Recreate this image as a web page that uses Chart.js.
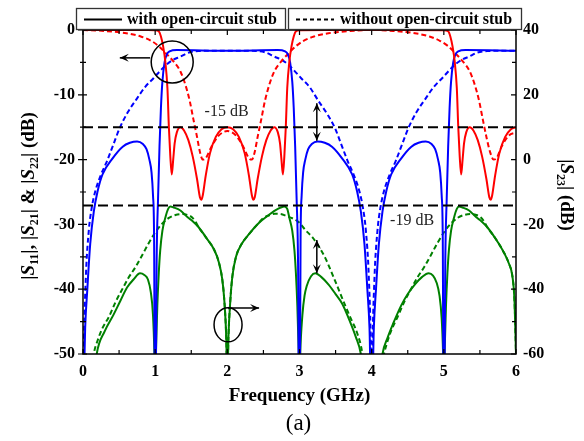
<!DOCTYPE html>
<html>
<head>
<meta charset="utf-8">
<script src="https://cdn.jsdelivr.net/npm/chart.js@4.4.1/dist/chart.umd.min.js"></script>
<style>
  html, body { margin: 0; padding: 0; background: #fff; }
  canvas { display: block; }
</style>
</head>
<body>
<canvas id="chart" width="584" height="441"></canvas>
<script>
// [frequency (GHz), level (dB)]
const s11With = [[0,0],[0.5,0],[0.9,-0.01],[1.0,-0.02],[1.05,-0.2],[1.08,-1],[1.11,-2.5],[1.14,-4.8],[1.17,-9],[1.19,-15],[1.21,-19.5],[1.23,-22.3],[1.25,-20],[1.27,-17.5],[1.3,-15.8],[1.35,-15],[1.4,-15.5],[1.46,-17],[1.52,-19.5],[1.58,-23],[1.62,-25.8],[1.64,-26.2],[1.66,-25.5],[1.7,-22.5],[1.76,-19],[1.84,-16.5],[1.92,-15.3],[2.0,-15],[2.08,-15.3],[2.16,-16.5],[2.24,-19],[2.3,-22.5],[2.34,-25.5],[2.36,-26.2],[2.38,-25.8],[2.42,-23],[2.48,-19.5],[2.54,-17],[2.6,-15.5],[2.65,-15],[2.7,-15.8],[2.73,-17.5],[2.75,-20],[2.77,-22.3],[2.79,-19.5],[2.81,-15],[2.83,-9],[2.86,-4.8],[2.89,-2.5],[2.92,-1],[2.95,-0.2],[3.0,-0.02],[3.5,0],[4.0,0],[4.5,0],[5.0,-0.02],[5.06,-0.2],[5.09,-1],[5.12,-2.5],[5.15,-4.8],[5.18,-9],[5.2,-15],[5.22,-19.5],[5.24,-22.3],[5.26,-20],[5.28,-17.5],[5.31,-15.8],[5.36,-15],[5.41,-15.5],[5.47,-17],[5.53,-19.5],[5.59,-23],[5.63,-25.8],[5.65,-26.2],[5.67,-25.5],[5.71,-22.5],[5.77,-19],[5.85,-16.5],[5.93,-15.3],[6.0,-15]];
const s11Without = [[0,0],[0.3,-0.15],[0.6,-0.5],[0.8,-1.0],[0.95,-1.7],[1.05,-2.5],[1.15,-3.6],[1.25,-4.8],[1.35,-6.4],[1.42,-8.5],[1.48,-11],[1.53,-13.8],[1.58,-16.5],[1.62,-18.8],[1.66,-20],[1.7,-19.8],[1.78,-18],[1.88,-16.3],[2.0,-15.6],[2.12,-16.3],[2.22,-18],[2.3,-19.8],[2.34,-20],[2.38,-18.8],[2.42,-16.5],[2.47,-13.8],[2.52,-11],[2.58,-8.5],[2.65,-6.4],[2.75,-4.8],[2.85,-3.6],[2.95,-2.5],[3.05,-1.7],[3.2,-1.0],[3.4,-0.5],[3.7,-0.15],[4.0,0],[4.3,-0.15],[4.6,-0.5],[4.8,-1.0],[4.95,-1.7],[5.06,-2.5],[5.16,-3.6],[5.26,-4.8],[5.36,-6.4],[5.43,-8.5],[5.49,-11],[5.54,-13.8],[5.59,-16.5],[5.64,-18.8],[5.69,-20],[5.73,-19.8],[5.8,-18],[5.9,-16.3],[6.0,-15.8]];
const s21With = [[0,-60],[0.03,-46],[0.06,-40],[0.1,-33],[0.15,-28],[0.2,-25],[0.27,-22.3],[0.41,-19.8],[0.55,-18],[0.65,-17.4],[0.75,-17.2],[0.83,-17.6],[0.88,-18.4],[0.92,-20],[0.95,-22],[0.97,-25.5],[0.985,-32],[0.997,-60],[1.005,-60],[1.02,-36],[1.04,-26],[1.06,-18],[1.08,-12],[1.1,-8],[1.13,-5],[1.16,-3.8],[1.2,-3.3],[1.3,-3.1],[2.0,-3.2],[2.7,-3.1],[2.8,-3.3],[2.84,-3.8],[2.87,-5],[2.9,-8],[2.92,-12],[2.94,-18],[2.96,-26],[2.98,-36],[2.995,-60],[3.003,-60],[3.015,-32],[3.03,-25.5],[3.05,-22],[3.08,-20],[3.12,-18.4],[3.17,-17.6],[3.25,-17.2],[3.35,-17.4],[3.45,-18],[3.59,-19.8],[3.73,-22.3],[3.8,-25],[3.85,-28],[3.9,-33],[3.94,-40],[3.97,-46],[4.0,-60],[4.03,-46],[4.06,-40],[4.1,-33],[4.15,-28],[4.2,-25],[4.27,-22.3],[4.41,-19.8],[4.55,-18],[4.65,-17.4],[4.75,-17.2],[4.83,-17.6],[4.88,-18.4],[4.92,-20],[4.95,-22],[4.97,-25.5],[4.985,-32],[4.997,-60],[5.005,-60],[5.02,-36],[5.04,-26],[5.06,-18],[5.08,-12],[5.1,-8],[5.13,-5],[5.16,-3.8],[5.2,-3.3],[5.3,-3.1],[6.0,-3.2]];
const s21Without = [[0,-60],[0.01,-50],[0.04,-38],[0.08,-31],[0.12,-27.5],[0.17,-24.9],[0.25,-22.3],[0.33,-20.3],[0.42,-17.7],[0.51,-15.1],[0.62,-12.7],[0.74,-10.7],[0.86,-8.8],[0.98,-7.4],[1.07,-6.3],[1.16,-5.3],[1.25,-4.6],[1.35,-4.1],[1.46,-3.5],[1.6,-3.25],[1.8,-3.2],[2.2,-3.2],[2.4,-3.25],[2.54,-3.5],[2.65,-4.1],[2.75,-4.6],[2.84,-5.3],[2.93,-6.3],[3.02,-7.4],[3.14,-8.8],[3.26,-10.9],[3.38,-12.9],[3.49,-15.1],[3.58,-17.7],[3.67,-20.3],[3.75,-22.3],[3.83,-24.9],[3.88,-27.5],[3.92,-31],[3.96,-38],[3.99,-50],[4.0,-60],[4.01,-50],[4.04,-38],[4.08,-31],[4.12,-27.5],[4.17,-24.9],[4.25,-22.3],[4.33,-20.3],[4.42,-17.7],[4.51,-15.1],[4.62,-12.7],[4.74,-10.7],[4.86,-8.8],[4.98,-7.4],[5.07,-6.3],[5.16,-5.3],[5.25,-4.6],[5.35,-4.1],[5.46,-3.5],[5.6,-3.25],[5.8,-3.2],[6.0,-3.2]];
const s23With = [[0.17,-64],[0.19,-60],[0.3,-53],[0.42,-48],[0.52,-43.5],[0.61,-39.5],[0.7,-37],[0.79,-35.1],[0.85,-35.6],[0.9,-37],[0.94,-41],[0.97,-48],[0.99,-60],[1.0,-70],[1.01,-60],[1.03,-45],[1.05,-35],[1.07,-28],[1.1,-22],[1.14,-18],[1.18,-15.2],[1.21,-14.5],[1.26,-14.8],[1.35,-15.7],[1.45,-17.8],[1.52,-19],[1.6,-20.8],[1.72,-24.5],[1.81,-27.5],[1.88,-31.5],[1.93,-37],[1.96,-44],[1.985,-55],[2.0,-70],[2.015,-55],[2.04,-44],[2.07,-36],[2.12,-30],[2.2,-26],[2.3,-23],[2.44,-19.5],[2.55,-17.5],[2.67,-15.6],[2.74,-14.8],[2.79,-14.5],[2.83,-15.2],[2.86,-18],[2.9,-22],[2.93,-28],[2.95,-35],[2.97,-45],[2.99,-60],[3.0,-70],[3.01,-60],[3.04,-48],[3.07,-42],[3.1,-39],[3.16,-36],[3.22,-35.1],[3.3,-36.2],[3.4,-38.5],[3.5,-41.5],[3.59,-44.4],[3.7,-50],[3.78,-54.7],[3.85,-60],[3.87,-64],[4.13,-64],[4.15,-60],[4.22,-55],[4.3,-50.5],[4.41,-45],[4.5,-41.5],[4.6,-38.5],[4.7,-36.2],[4.79,-35.1],[4.85,-35.8],[4.9,-38],[4.94,-42],[4.97,-49],[4.99,-60],[5.0,-70],[5.01,-60],[5.03,-45],[5.05,-35],[5.07,-28],[5.1,-22],[5.14,-18],[5.18,-15.2],[5.21,-14.5],[5.26,-14.8],[5.35,-15.7],[5.45,-17.8],[5.52,-19],[5.6,-20.8],[5.72,-24.5],[5.84,-29],[5.9,-32],[5.95,-36],[5.98,-44],[6.0,-60]];
const s23Without = [[0.13,-64],[0.15,-60],[0.2,-56],[0.27,-52],[0.36,-48.5],[0.45,-44],[0.54,-40.2],[0.63,-36.5],[0.73,-33.1],[0.82,-29.5],[0.91,-25.8],[1.0,-22.5],[1.1,-19.7],[1.19,-18],[1.28,-17.1],[1.375,-16.8],[1.45,-17.1],[1.51,-17.8],[1.56,-19.2],[1.6,-20.8],[1.72,-24.5],[1.81,-27.5],[1.88,-31.5],[1.93,-37],[1.96,-44],[1.985,-55],[2.0,-70],[2.015,-55],[2.04,-44],[2.07,-36],[2.12,-30],[2.2,-26],[2.3,-23],[2.44,-19.4],[2.5,-18],[2.58,-17.2],[2.66,-16.7],[2.74,-16.8],[2.82,-17.4],[2.9,-18.1],[3.0,-19.5],[3.08,-21.7],[3.18,-24],[3.27,-26.9],[3.36,-30.5],[3.45,-35.1],[3.55,-40.5],[3.64,-45.4],[3.72,-49.5],[3.8,-53.6],[3.87,-59.8],[3.89,-64],[4.13,-64],[4.17,-60],[4.25,-54],[4.36,-48.5],[4.45,-44],[4.54,-40.2],[4.63,-36.5],[4.73,-33.1],[4.82,-29.5],[4.91,-25.8],[5.0,-22.5],[5.1,-19.7],[5.19,-18],[5.28,-17.1],[5.375,-16.8],[5.45,-17.1],[5.51,-17.8],[5.56,-19.2],[5.6,-20.8],[5.72,-24.5],[5.84,-29],[5.9,-32],[5.95,-36],[5.98,-44],[6.0,-60]];

const seriesLabels = ['with open-circuit stub', 'without open-circuit stub'];
const xTicks = [0, 1, 2, 3, 4, 5, 6];
const leftTicks = [0, -10, -20, -30, -40, -50];
const rightTicks = [40, 20, 0, -20, -40, -60];
const refLevels = [-15, -27.1];           // dashed guide lines, left axis
const refTexts = [['-15 dB', 1.99, -12.6], ['-19 dB', 4.56, -29.5]];

const FF = '"Liberation Serif", "Times New Roman", serif';
const RED = '#ff0000', BLUE = '#0000ff', GREEN = '#008000';

const toXY = (arr) => arr.map(([x, y]) => ({ x, y }));

function line(data, color, dashed, axis) {
    return {
        data: toXY(data),
        borderColor: color,
        borderWidth: 2,
        borderDash: dashed ? [5, 3] : [],
        pointRadius: 0,
        fill: false,
        cubicInterpolationMode: 'monotone',
        yAxisID: axis,
    };
}

function arrowHead(ctx, x1, y1, x2, y2) {
    const a = Math.atan2(y2 - y1, x2 - x1), L = 9, W = 4;
    ctx.beginPath();
    ctx.moveTo(x2, y2);
    ctx.lineTo(x2 - L * Math.cos(a) + W * Math.sin(a), y2 - L * Math.sin(a) - W * Math.cos(a));
    ctx.lineTo(x2 - L * 0.6 * Math.cos(a), y2 - L * 0.6 * Math.sin(a));
    ctx.lineTo(x2 - L * Math.cos(a) - W * Math.sin(a), y2 - L * Math.sin(a) + W * Math.cos(a));
    ctx.closePath();
    ctx.fill();
}

function arrow(ctx, x1, y1, x2, y2, both) {
    ctx.beginPath();
    ctx.moveTo(x1, y1);
    ctx.lineTo(x2, y2);
    ctx.stroke();
    arrowHead(ctx, x1, y1, x2, y2);
    if (both) arrowHead(ctx, x2, y2, x1, y1);
}

// draws text with italic S and subscripts, centred and rotated
function richText(ctx, parts, cx, cy, angle, size) {
    const fonts = {
        n: `bold ${size}px ${FF}`,
        i: `italic bold ${size}px ${FF}`,
        s: `bold ${Math.round(size * 0.62)}px ${FF}`,
    };
    ctx.save();
    ctx.translate(cx, cy);
    ctx.rotate(angle);
    ctx.fillStyle = '#000';
    ctx.textBaseline = 'alphabetic';
    ctx.textAlign = 'left';
    let w = 0;
    for (const [t, k] of parts) { ctx.font = fonts[k]; w += ctx.measureText(t).width; }
    let x = -w / 2;
    for (const [t, k] of parts) {
        ctx.font = fonts[k];
        ctx.fillText(t, x, k === 's' ? size * 0.55 : size * 0.34);
        x += ctx.measureText(t).width;
    }
    ctx.restore();
}

const decorations = {
    id: 'decorations',
    afterDatasetsDraw(chart) {
        const { ctx, chartArea: a, scales: { x, y, y2 } } = chart;
        ctx.save();

        // dashed reference levels
        ctx.strokeStyle = '#000';
        ctx.lineWidth = 2;
        ctx.setLineDash([10, 5]);
        refLevels.forEach((v) => {
            const py = y.getPixelForValue(v);
            ctx.beginPath();
            ctx.moveTo(a.left, py);
            ctx.lineTo(a.right, py);
            ctx.stroke();
        });
        ctx.setLineDash([]);

        // frame
        ctx.lineWidth = 1.5;
        ctx.strokeRect(a.left, a.top, a.right - a.left, a.bottom - a.top);

        // tick marks
        ctx.lineWidth = 1.2;
        ctx.beginPath();
        for (let f = 0; f <= 6; f += 0.5) {
            const px = x.getPixelForValue(f), len = f % 1 === 0 ? 5 : 4;
            ctx.moveTo(px, a.bottom); ctx.lineTo(px, a.bottom - len);
            ctx.moveTo(px, a.top); ctx.lineTo(px, a.top + len);
        }
        for (let v = 0; v >= -50; v -= 5) {
            const py = y.getPixelForValue(v), big = v % 10 === 0;
            ctx.moveTo(a.left - (big ? 5 : 3), py); ctx.lineTo(a.left + (big ? 4 : 3), py);
        }
        for (let v = 40; v >= -60; v -= 10) {
            const py = y2.getPixelForValue(v), big = v % 20 === 0;
            ctx.moveTo(a.right - (big ? 5 : 4), py); ctx.lineTo(a.right, py);
        }
        ctx.stroke();

        // level labels
        ctx.fillStyle = '#222';
        ctx.font = `16px ${FF}`;
        ctx.textAlign = 'center';
        ctx.textBaseline = 'middle';
        refTexts.forEach(([t, f, v]) => ctx.fillText(t, x.getPixelForValue(f), y.getPixelForValue(v)));

        // circle + arrow pointing to the left axis
        ctx.fillStyle = '#000';
        ctx.lineWidth = 1.5;
        ctx.beginPath();
        ctx.arc(x.getPixelForValue(1.236), y.getPixelForValue(-4.94), 21, 0, Math.PI * 2);
        ctx.stroke();
        arrow(ctx, x.getPixelForValue(0.93), y.getPixelForValue(-4.3), x.getPixelForValue(0.51), y.getPixelForValue(-4.3));

        // ellipse + arrow pointing to the right axis
        ctx.beginPath();
        ctx.ellipse(x.getPixelForValue(2.01), y2.getPixelForValue(-51), 14, 17, 0, 0, Math.PI * 2);
        ctx.stroke();
        arrow(ctx, x.getPixelForValue(2.01), y2.getPixelForValue(-45.8), x.getPixelForValue(2.44), y2.getPixelForValue(-45.8));

        // improvement arrows
        arrow(ctx, x.getPixelForValue(3.24), y.getPixelForValue(-11.3), x.getPixelForValue(3.24), y.getPixelForValue(-17.1), true);
        arrow(ctx, x.getPixelForValue(3.24), y2.getPixelForValue(-24.8), x.getPixelForValue(3.24), y2.getPixelForValue(-35.1), true);

        ctx.restore();
    },
    afterDraw(chart) {
        const { ctx, chartArea: a } = chart;
        ctx.save();

        // axis titles
        richText(ctx, [['|', 'n'], ['S', 'i'], ['11', 's'], ['|, |', 'n'], ['S', 'i'], ['21', 's'], ['| & |', 'n'], ['S', 'i'], ['22', 's'], ['| (dB)', 'n']],
            28, 196, -Math.PI / 2, 19);
        richText(ctx, [['|', 'n'], ['S', 'i'], ['23', 's'], ['| (dB)', 'n']], 567, 195, Math.PI / 2, 19);

        ctx.fillStyle = '#000';
        ctx.textAlign = 'center';
        ctx.textBaseline = 'middle';
        ctx.font = `bold 19px ${FF}`;
        ctx.fillText('Frequency (GHz)', (a.left + a.right) / 2, 396);
        ctx.font = `23px ${FF}`;
        ctx.fillText('(a)', (a.left + a.right) / 2 - 1, 424);

        // legend boxes
        ctx.strokeStyle = '#333';
        ctx.lineWidth = 1.3;
        ctx.strokeRect(76.5, 8.5, 209, 21);
        ctx.strokeRect(288.5, 8.5, 233, 21);
        ctx.strokeStyle = '#000';
        ctx.lineWidth = 2;
        ctx.beginPath(); ctx.moveTo(84, 19.5); ctx.lineTo(122, 19.5); ctx.stroke();
        ctx.setLineDash([4, 3]);
        ctx.beginPath(); ctx.moveTo(296, 19.5); ctx.lineTo(334, 19.5); ctx.stroke();
        ctx.setLineDash([]);
        ctx.font = `bold 16px ${FF}`;
        ctx.textAlign = 'left';
        ctx.fillText(seriesLabels[0], 127, 19.5);
        ctx.fillText(seriesLabels[1], 340, 19.5);

        ctx.restore();
    },
};

const tickFont = { family: FF, size: 16, weight: 'bold' };

new Chart(document.getElementById('chart'), {
    type: 'line',
    data: {
        datasets: [
            line(s11With, RED, false, 'y'),
            line(s21With, BLUE, false, 'y'),
            line(s23With, GREEN, false, 'y2'),
            line(s11Without, RED, true, 'y'),
            line(s21Without, BLUE, true, 'y'),
            line(s23Without, GREEN, true, 'y2'),
        ],
    },
    options: {
        responsive: false,
        animation: false,
        devicePixelRatio: 1,
        layout: { padding: { top: 30, left: 0, right: 0, bottom: 0 } },
        plugins: { legend: { display: false }, tooltip: { enabled: false } },
        scales: {
            x: {
                type: 'linear', min: 0, max: 6,
                grid: { display: false, drawTicks: false },
                border: { display: false },
                afterBuildTicks: (s) => { s.ticks = xTicks.map((v) => ({ value: v })); },
                ticks: { color: '#000', font: tickFont, padding: 8, maxRotation: 0 },
                afterFit: (s) => { s.height = 87; },
            },
            y: {
                type: 'linear', position: 'left', min: -50, max: 0,
                grid: { display: false, drawTicks: false },
                border: { display: false },
                afterBuildTicks: (s) => { s.ticks = leftTicks.map((v) => ({ value: v })); },
                ticks: { color: '#000', font: tickFont, padding: 8 },
                afterFit: (s) => { s.width = 83; },
            },
            y2: {
                type: 'linear', position: 'right', min: -60, max: 40,
                grid: { display: false, drawTicks: false },
                border: { display: false },
                afterBuildTicks: (s) => { s.ticks = rightTicks.map((v) => ({ value: v })); },
                ticks: { color: '#000', font: tickFont, padding: 7 },
                afterFit: (s) => { s.width = 68; },
            },
        },
    },
    plugins: [decorations],
});
</script>
</body>
</html>
